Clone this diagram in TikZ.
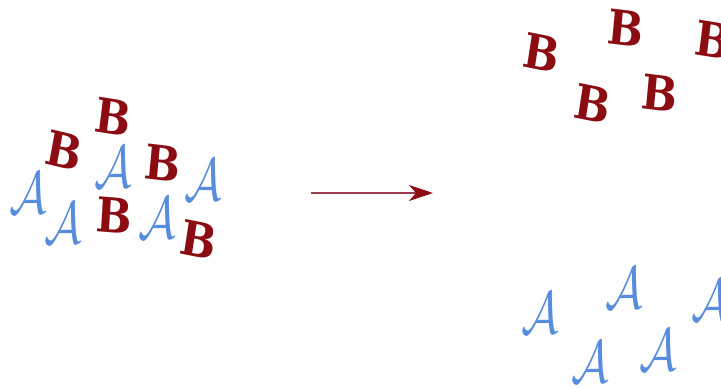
\documentclass[tikz,border=0pt]{standalone}
\usepackage{amsmath}
\usepackage{fontspec}
\newfontfamily\lettfont{DejaVu Serif}
\usepackage{tikz}
\usetikzlibrary{arrows.meta,positioning}

\definecolor{bred}{RGB}{139,12,18}
\definecolor{ablue}{RGB}{88,140,220}
\definecolor{arrline}{RGB}{150,60,75}

\begin{document}
\begin{tikzpicture}[
    x=1pt, y=-1pt,
    letB/.style={text=bred, inner sep=0pt, font=\lettfont\fontsize{48}{48}\selectfont\bfseries, xscale=0.88},
    letA/.style={text=ablue, inner sep=0pt, font=\normalsize, scale=6, xscale=0.78},
    move/.style={draw=arrline, line width=1.6pt, -{Stealth[length=24pt, width=16pt, inset=7pt, fill=bred, color=bred]}}
]
    \useasboundingbox (0,0) rectangle (721,388);

    % mixed cluster
    \node[letB, rotate=-8] (b1) at (113,117) {B};
    \node[letB, rotate=-12] (b2) at (64,151) {B};
    \node[letB, rotate=-6] (b3) at (163,163) {B};
    \node[letB, rotate=-4] (b4) at (114,215) {B};
    \node[letB, rotate=-10] (b5) at (199,240) {B};
    \node[letA] (a1) at (113,167) {$\mathcal{A}$};
    \node[letA] (a2) at (203,180) {$\mathcal{A}$};
    \node[letA] (a3) at (28,193) {$\mathcal{A}$};
    \node[letA] (a4) at (63,223) {$\mathcal{A}$};
    \node[letA] (a5) at (157,218) {$\mathcal{A}$};

    % separation
    \coordinate (mixS) at (311,193);
    \coordinate (mixE) at (433,193);
    \draw[move] (mixS) -- (mixE);

    % separated B's
    \node[letB, rotate=-10] (sb1) at (542,53) {B};
    \node[letB, rotate=-6] (sb2) at (626,28) {B};
    \node[letB, rotate=-8] (sb3) at (713,40) {B};
    \node[letB, rotate=-10] (sb4) at (593,104) {B};
    \node[letB, rotate=-6] (sb5) at (660,93) {B};

    % separated A's
    \node[letA] (sa1) at (540,313) {$\mathcal{A}$};
    \node[letA] (sa2) at (624,288) {$\mathcal{A}$};
    \node[letA] (sa3) at (710,300) {$\mathcal{A}$};
    \node[letA] (sa4) at (590,362) {$\mathcal{A}$};
    \node[letA] (sa5) at (658,350) {$\mathcal{A}$};
\end{tikzpicture}
\end{document}
